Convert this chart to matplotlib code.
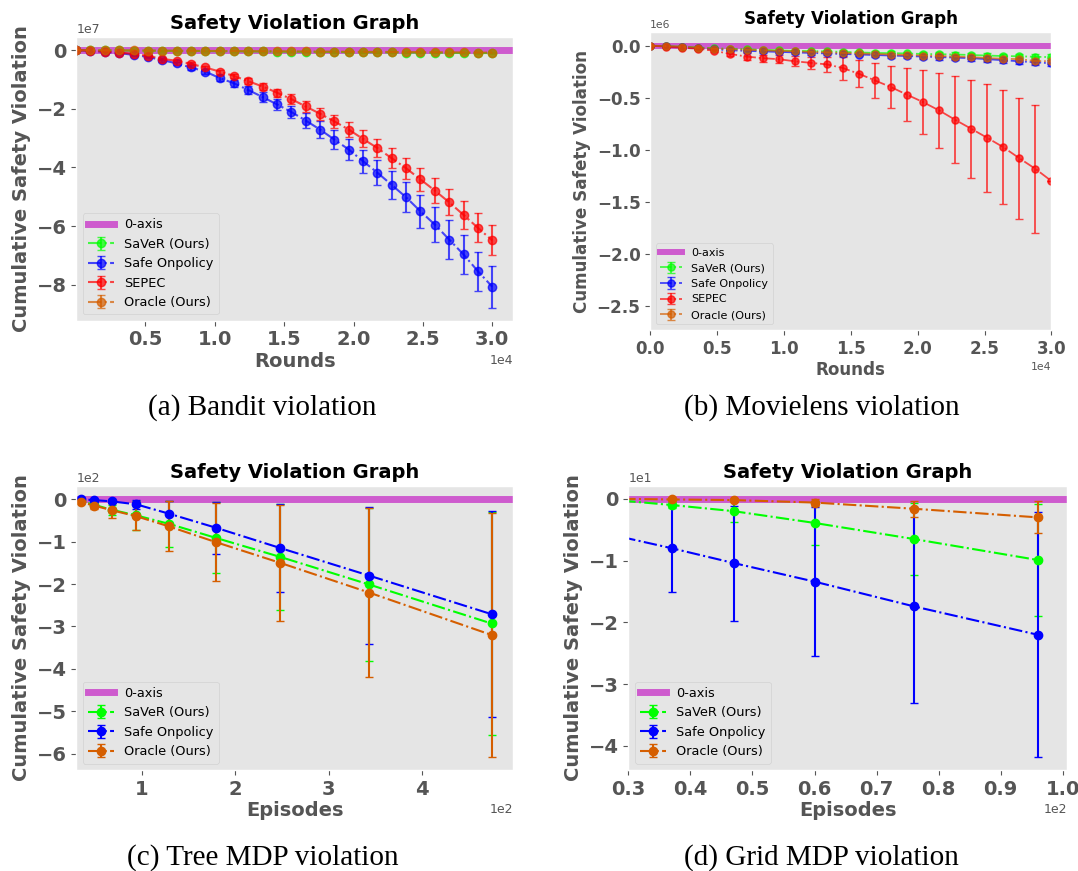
import numpy as np
import matplotlib
matplotlib.use("Agg")
import matplotlib.pyplot as plt
from matplotlib.ticker import MultipleLocator

plt.style.use('ggplot')
plt.rcParams['axes.grid'] = False
plt.rcParams['font.family'] = 'DejaVu Sans'
plt.rcParams['font.weight'] = 'bold'
plt.rcParams['axes.labelweight'] = 'bold'
plt.rcParams['axes.titleweight'] = 'bold'

COLORS = {'SaVeR (Ours)': '#00ff00', 'Safe Onpolicy': 'blue',
          'SEPEC': 'red', 'Oracle (Ours)': '#d55e00'}

# (a) Bandit, values in units of 1e7
bandit_x = np.linspace(0, 30000, 30)
bandit_saver = [0.0, -0.003, -0.006, -0.01, -0.013, -0.017, -0.02, -0.024, -0.027, -0.031,
                -0.034, -0.038, -0.041, -0.045, -0.048, -0.052, -0.055, -0.059, -0.062, -0.066,
                -0.069, -0.073, -0.076, -0.08, -0.083, -0.087, -0.09, -0.094, -0.097, -0.10]
bandit_saver_err = [0.0, 0.002, 0.003, 0.004, 0.005, 0.006, 0.007, 0.008, 0.009, 0.01,
                    0.011, 0.012, 0.013, 0.014, 0.015, 0.016, 0.017, 0.018, 0.019, 0.02,
                    0.021, 0.022, 0.023, 0.024, 0.025, 0.026, 0.027, 0.028, 0.029, 0.03]
bandit_onpolicy = [0.0, -0.02, -0.06, -0.10, -0.16, -0.23, -0.34, -0.45, -0.59, -0.73,
                   -0.95, -1.13, -1.36, -1.60, -1.85, -2.11, -2.40, -2.71, -3.05, -3.39,
                   -3.79, -4.18, -4.60, -5.02, -5.50, -5.95, -6.46, -6.97, -7.54, -8.07]
bandit_onpolicy_err = [0.0, 0.01, 0.02, 0.02, 0.03, 0.04, 0.05, 0.06, 0.07, 0.08,
                       0.10, 0.12, 0.14, 0.17, 0.19, 0.22, 0.25, 0.28, 0.31, 0.35,
                       0.39, 0.43, 0.47, 0.51, 0.56, 0.61, 0.65, 0.68, 0.67, 0.72]
bandit_sepec = [0.0, -0.02, -0.05, -0.08, -0.13, -0.19, -0.30, -0.36, -0.47, -0.59,
                -0.73, -0.88, -1.06, -1.24, -1.45, -1.67, -1.92, -2.17, -2.43, -2.71,
                -3.03, -3.34, -3.69, -4.03, -4.41, -4.79, -5.19, -5.62, -6.06, -6.49]
bandit_sepec_err = [0.0, 0.01, 0.01, 0.02, 0.02, 0.03, 0.04, 0.04, 0.05, 0.06,
                    0.07, 0.08, 0.10, 0.12, 0.14, 0.17, 0.19, 0.21, 0.23, 0.26,
                    0.29, 0.31, 0.34, 0.36, 0.39, 0.42, 0.44, 0.47, 0.49, 0.51]
bandit_oracle = [0.0, -0.003, -0.005, -0.008, -0.011, -0.014, -0.017, -0.02, -0.022, -0.025,
                 -0.028, -0.031, -0.034, -0.037, -0.039, -0.042, -0.045, -0.048, -0.051, -0.053,
                 -0.056, -0.059, -0.062, -0.065, -0.068, -0.071, -0.074, -0.077, -0.08, -0.083]
bandit_oracle_err = [0.0, 0.002, 0.003, 0.004, 0.004, 0.005, 0.006, 0.007, 0.008, 0.009,
                     0.01, 0.011, 0.012, 0.013, 0.014, 0.015, 0.016, 0.017, 0.018, 0.019,
                     0.02, 0.021, 0.022, 0.023, 0.024, 0.025, 0.026, 0.027, 0.028, 0.029]

# (b) Movielens, values in units of 1e6
movie_x = np.arange(0, 30001, 1200)
movie_saver = [0.0, -0.005, -0.01, -0.018, -0.025, -0.03, -0.035, -0.04, -0.045, -0.05,
               -0.052, -0.055, -0.06, -0.065, -0.07, -0.072, -0.075, -0.08, -0.082, -0.085,
               -0.09, -0.095, -0.10, -0.102, -0.107, -0.11]
movie_saver_err = [0.0, 0.002, 0.004, 0.005, 0.006, 0.007, 0.008, 0.009, 0.01, 0.011,
                   0.012, 0.013, 0.014, 0.015, 0.016, 0.017, 0.018, 0.019, 0.02, 0.021,
                   0.022, 0.023, 0.024, 0.025, 0.026, 0.027]
movie_onpolicy = [0.0, -0.008, -0.015, -0.025, -0.035, -0.045, -0.05, -0.055, -0.06, -0.065,
                  -0.07, -0.075, -0.08, -0.085, -0.09, -0.095, -0.10, -0.105, -0.11, -0.115,
                  -0.12, -0.13, -0.14, -0.15, -0.16, -0.17]
movie_onpolicy_err = [0.0, 0.003, 0.005, 0.007, 0.009, 0.01, 0.011, 0.012, 0.013, 0.014,
                      0.015, 0.016, 0.017, 0.018, 0.019, 0.02, 0.021, 0.022, 0.023, 0.024,
                      0.025, 0.026, 0.027, 0.028, 0.029, 0.03]
movie_sepec = [0.0, -0.01, -0.02, -0.03, -0.05, -0.08, -0.105, -0.12, -0.13, -0.15,
               -0.165, -0.18, -0.215, -0.27, -0.334, -0.398, -0.471, -0.542, -0.622, -0.712,
               -0.798, -0.885, -0.975, -1.081, -1.183, -1.30]
movie_sepec_err = [0.0, 0.005, 0.01, 0.01, 0.015, 0.02, 0.03, 0.035, 0.04, 0.05,
                   0.06, 0.07, 0.11, 0.13, 0.17, 0.205, 0.257, 0.305, 0.36, 0.418,
                   0.468, 0.517, 0.545, 0.579, 0.612, 0.0]
movie_oracle = [0.0, -0.005, -0.01, -0.02, -0.03, -0.035, -0.04, -0.045, -0.05, -0.055,
                -0.06, -0.065, -0.07, -0.075, -0.08, -0.085, -0.09, -0.095, -0.10, -0.105,
                -0.11, -0.12, -0.125, -0.13, -0.147, -0.15]
movie_oracle_err = [0.0, 0.002, 0.004, 0.005, 0.006, 0.007, 0.008, 0.009, 0.01, 0.011,
                    0.012, 0.013, 0.014, 0.015, 0.016, 0.017, 0.018, 0.019, 0.02, 0.021,
                    0.022, 0.023, 0.024, 0.025, 0.026, 0.027]

# (c) Tree MDP, values in units of 1e2
tree_x = [25, 35, 49, 68, 94, 129, 179, 248, 343, 474]
tree_saver = [-0.02, -0.05, -0.13, -0.25, -0.38, -0.58, -0.91, -1.36, -2.01, -2.93]
tree_saver_err = [0.01, 0.02, 0.06, 0.12, 0.35, 0.55, 0.84, 1.25, 1.81, 2.64]
tree_onpolicy = [0.0, 0.0, -0.02, -0.05, -0.12, -0.34, -0.67, -1.15, -1.80, -2.71]
tree_onpolicy_err = [0.0, 0.01, 0.02, 0.03, 0.10, 0.30, 0.61, 1.03, 1.62, 2.43]
tree_oracle = [-0.03, -0.07, -0.15, -0.26, -0.40, -0.64, -1.01, -1.50, -2.20, -3.20]
tree_oracle_err = [0.01, 0.02, 0.07, 0.18, 0.33, 0.59, 0.92, 1.37, 2.00, 2.88]

# (d) Grid MDP, values in units of 1e1
grid_x = [29, 37, 47, 60, 76, 96]
grid_saver = [-0.03, -0.10, -0.20, -0.39, -0.65, -0.99]
grid_saver_err = [0.03, 0.05, 0.17, 0.35, 0.58, 0.90]
grid_onpolicy = [-0.62, -0.80, -1.04, -1.34, -1.74, -2.20]
grid_onpolicy_err = [0.6, 0.71, 0.93, 1.21, 1.57, 1.98]
grid_oracle = [0.0, -0.01, -0.02, -0.06, -0.16, -0.30]
grid_oracle_err = [0.0, 0.01, 0.02, 0.05, 0.13, 0.26]

fig = plt.figure(figsize=(10.78, 8.71), dpi=100)


def panel(rect, x, runs, unit, k, alpha, xlabel, xlim, ylim, caption, cap_xy):
    ax = fig.add_axes(rect)
    ax.axhline(0, color='m', alpha=0.6, lw=5 * k, label='0-axis')
    for name, y, e in runs:
        ax.errorbar(x, np.array(y) * unit, yerr=np.array(e) * unit, fmt='-.o',
                    color=COLORS[name], ms=6 * k, lw=1.5 * k, elinewidth=1.5 * k,
                    capsize=3 * k, alpha=alpha, label=name)
    ax.set_title('Safety Violation Graph', fontsize=14 * k, color='black')
    ax.set_xlabel(xlabel, fontsize=14 * k, labelpad=2)
    ax.set_ylabel('Cumulative Safety Violation', fontsize=14 * k)
    ax.ticklabel_format(style='sci', axis='both', scilimits=(0, 0))
    ax.tick_params(labelsize=14 * k)
    ax.xaxis.get_offset_text().set(size=9 * k, weight='normal')
    ax.yaxis.get_offset_text().set(size=9 * k, weight='normal')
    ax.set_xlim(*xlim)
    if ylim is not None:
        ax.set_ylim(*ylim)
    ax.legend(loc='lower left', prop={'size': 9.3 * k, 'weight': 'normal'})
    fig.text(cap_xy[0], cap_xy[1], caption, ha='center', va='center',
             family='Liberation Serif', fontsize=21, weight='normal')
    return ax


panel([0.0709, 0.6318, 0.4050, 0.3254], bandit_x,
      [('SaVeR (Ours)', bandit_saver, bandit_saver_err),
       ('Safe Onpolicy', bandit_onpolicy, bandit_onpolicy_err),
       ('SEPEC', bandit_sepec, bandit_sepec_err),
       ('Oracle (Ours)', bandit_oracle, bandit_oracle_err)],
      1e7, 1.0, 0.7, 'Rounds', (20, 31500), None,
      '(a) Bandit violation', (0.2436, 1 - 408 / 871))

panel([0.6032, 0.6211, 0.3722, 0.3418], movie_x,
      [('SaVeR (Ours)', movie_saver, movie_saver_err),
       ('Safe Onpolicy', movie_onpolicy, movie_onpolicy_err),
       ('SEPEC', movie_sepec, movie_sepec_err),
       ('Oracle (Ours)', movie_oracle, movie_oracle_err)],
      1e6, 0.86, 0.7, 'Rounds', (0, 30000), (-2.73e6, 0.128e6),
      '(b) Movielens violation', (0.7625, 1 - 408 / 871))

panel([0.0709, 0.1160, 0.4050, 0.3261], tree_x,
      [('SaVeR (Ours)', tree_saver, tree_saver_err),
       ('Safe Onpolicy', tree_onpolicy, tree_onpolicy_err),
       ('Oracle (Ours)', tree_oracle, tree_oracle_err)],
      1e2, 1.0, None, 'Episodes', (30, 497), None,
      '(c) Tree MDP violation', (0.2436, 1 - 858 / 871))

ax_d = panel([0.5830, 0.1160, 0.4067, 0.3261], grid_x,
             [('SaVeR (Ours)', grid_saver, grid_saver_err),
              ('Safe Onpolicy', grid_onpolicy, grid_onpolicy_err),
              ('Oracle (Ours)', grid_oracle, grid_oracle_err)],
             1e1, 1.0, None, 'Episodes', (30, 100.7), None,
             '(d) Grid MDP violation', (0.7624, 1 - 858 / 871))
ax_d.xaxis.set_major_locator(MultipleLocator(10))

fig.savefig('out.png', dpi=100)
